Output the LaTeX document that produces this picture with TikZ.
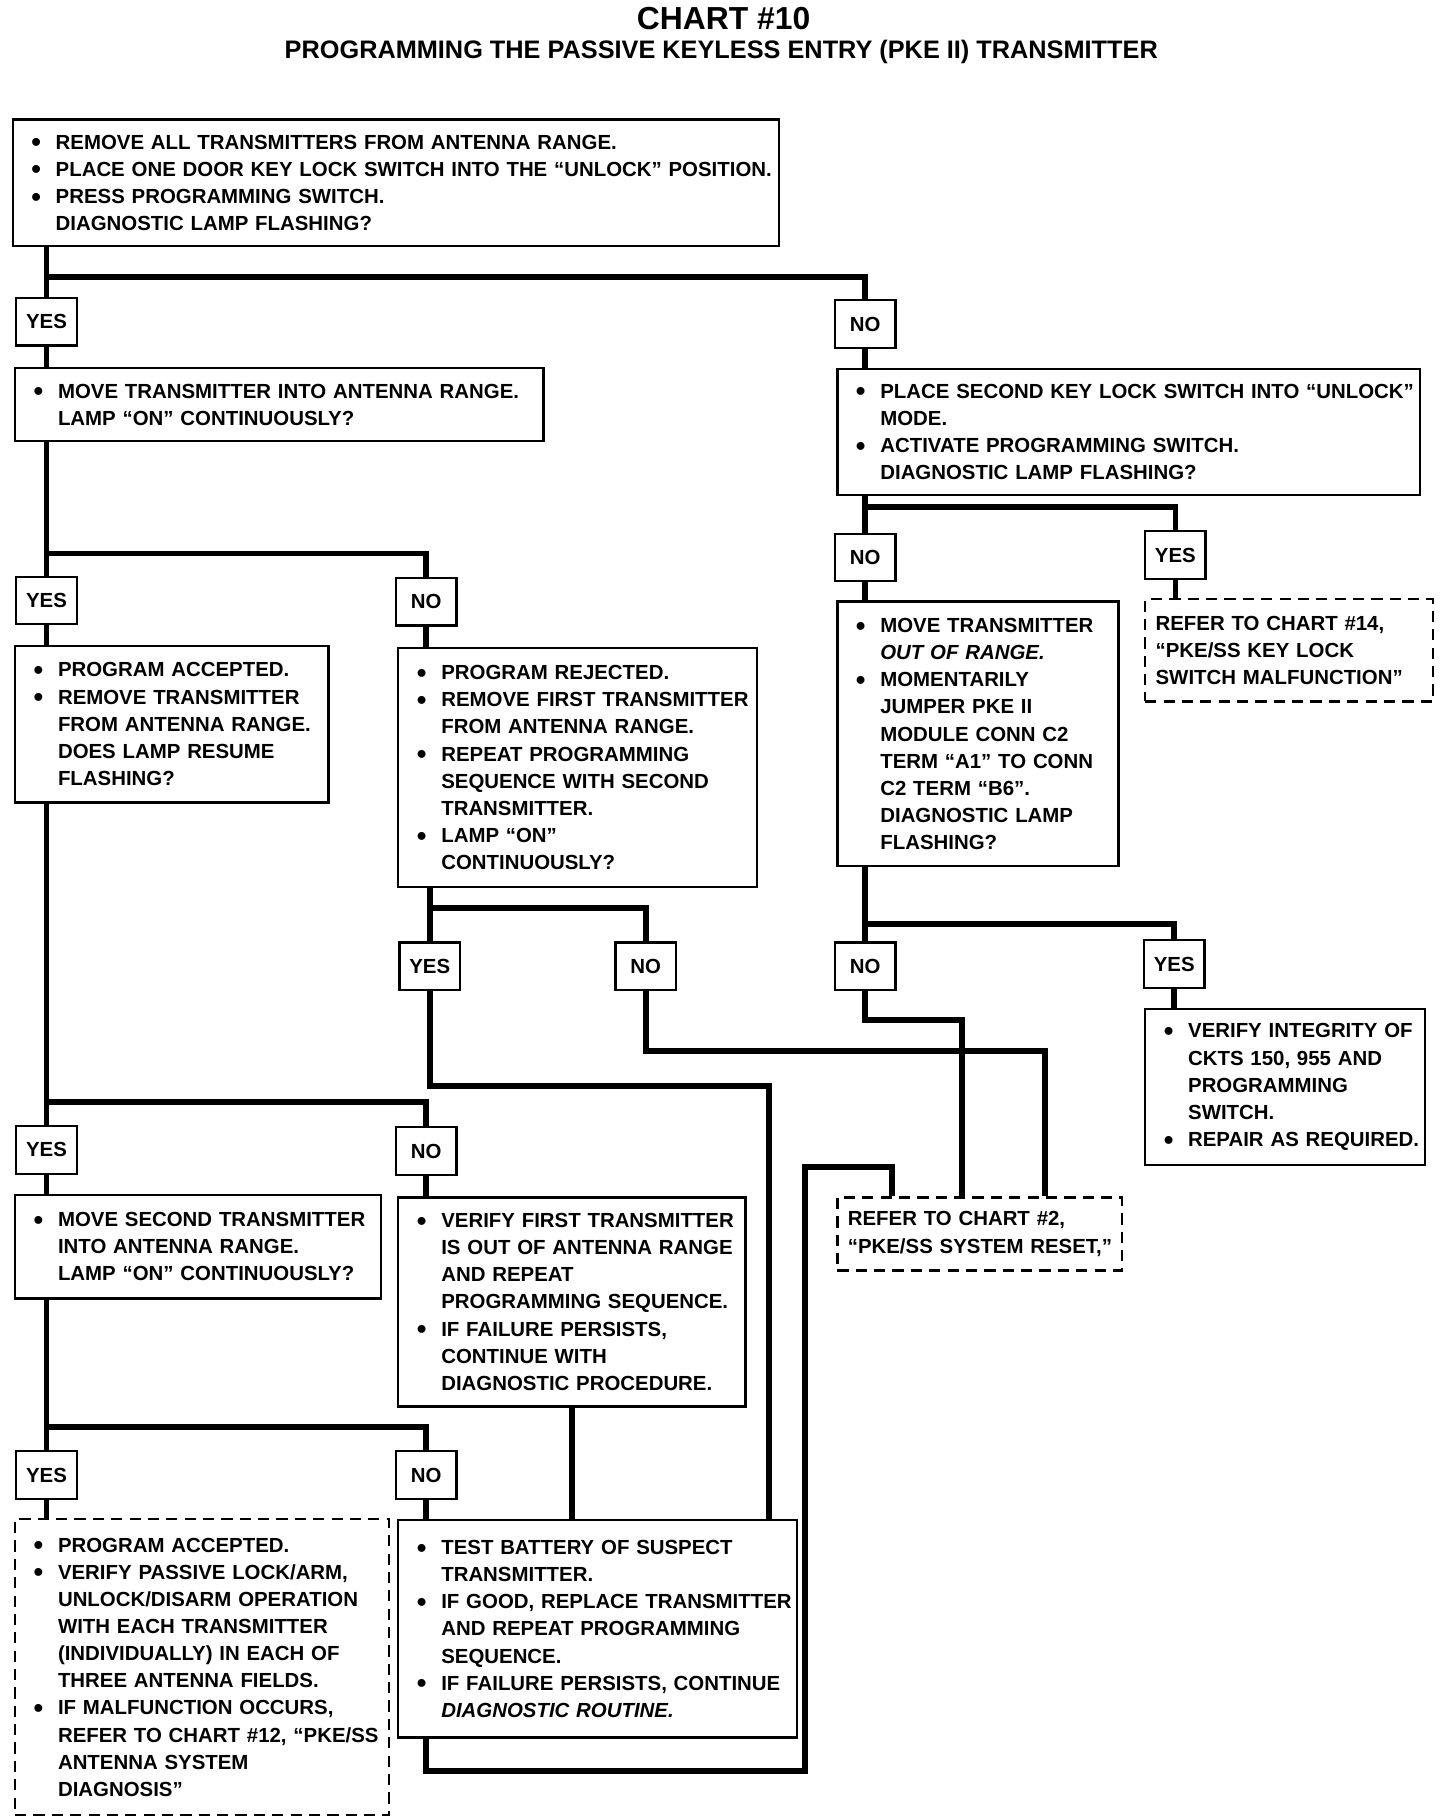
\documentclass[tikz,border=0pt]{standalone}
\usepackage{fontspec}
\setmainfont{Liberation Sans}
\usetikzlibrary{calc}

\newcommand\bigdot{\raisebox{-0.13em}{\scalebox{1.35}{\textbullet}}}
\newcommand\bl[1]{\makebox[0.58cm][l]{\hspace{0.16cm}\bigdot}\mbox{#1}}
\newcommand\ind[1]{\hspace*{0.58cm}\mbox{#1}}
\newcommand\pl[1]{\mbox{#1}}

\tikzset{
    every node/.append style={
        font=\fontsize{10}{13.3}\selectfont\bfseries,
    },
    heading/.style={
        inner sep=0pt,
        font=\bfseries,
    },
    box/.style 2 args={
        draw=black,
        line width=1.1pt,
        fill=white,
        anchor=north west,
        align=left,
        inner xsep=0.16cm,
        inner ysep=0pt,
        text width=#1,
        minimum height=#2,
    },
    refbox/.style 2 args={
        box={#1}{#2},
        inner xsep=0.18cm,
        dash pattern=on 5.5pt off 3.5pt,
    },
    ans/.style={
        draw=black,
        line width=1.1pt,
        fill=white,
        minimum width=1.04cm,
        minimum height=0.82cm,
        inner sep=0pt,
    },
    link/.style={
        draw,
        line width=2.8pt,
    }
}

\begin{document}
\begin{tikzpicture}[x=0.02cm, y=-0.02cm]
    \useasboundingbox (0,0) rectangle (1240,1567);

    \node[heading] (ttl) at (623,16) {\fontsize{15.6}{18}\selectfont CHART \#10};
    \node[heading] (sub) at (621,45) {\fontsize{12.4}{15}\selectfont PROGRAMMING THE PASSIVE KEYLESS ENTRY (PKE II) TRANSMITTER};

    % left column
    \node[box={12.88cm}{2.18cm}] (start) at (10,102) {\bl{REMOVE ALL TRANSMITTERS FROM ANTENNA RANGE.}\\
        \bl{PLACE ONE DOOR KEY LOCK SWITCH INTO THE “UNLOCK” POSITION.}\\
        \bl{PRESS PROGRAMMING SWITCH.}\\
        \ind{DIAGNOSTIC LAMP FLASHING?}};
    \node[box={8.78cm}{1.26cm}] (inrange) at (12,316) {\bl{MOVE TRANSMITTER INTO ANTENNA RANGE.}\\
        \ind{LAMP “ON” CONTINUOUSLY?}};
    \node[box={5.08cm}{2.70cm}] (accepted) at (12,555) {\bl{PROGRAM ACCEPTED.}\\
        \bl{REMOVE TRANSMITTER}\\
        \ind{FROM ANTENNA RANGE.}\\
        \ind{DOES LAMP RESUME}\\
        \ind{FLASHING?}};
    \node[box={5.86cm}{4.12cm}] (rejected) at (342,557) {\bl{PROGRAM REJECTED.}\\
        \bl{REMOVE FIRST TRANSMITTER}\\
        \ind{FROM ANTENNA RANGE.}\\
        \bl{REPEAT PROGRAMMING}\\
        \ind{SEQUENCE WITH SECOND}\\
        \ind{TRANSMITTER.}\\
        \bl{LAMP “ON”}\\
        \ind{CONTINUOUSLY?}};
    \node[box={5.98cm}{1.78cm}] (movesec) at (12,1028) {\bl{MOVE SECOND TRANSMITTER}\\
        \ind{INTO ANTENNA RANGE.}\\
        \ind{LAMP “ON” CONTINUOUSLY?}};
    \node[box={5.66cm}{3.60cm}] (firstout) at (342,1030) {\bl{VERIFY FIRST TRANSMITTER}\\
        \ind{IS OUT OF ANTENNA RANGE}\\
        \ind{AND REPEAT}\\
        \ind{PROGRAMMING SEQUENCE.}\\
        \bl{IF FAILURE PERSISTS,}\\
        \ind{CONTINUE WITH}\\
        \ind{DIAGNOSTIC PROCEDURE.}};
    \node[box={6.12cm}{5.10cm}, dash pattern=on 5.5pt off 3.5pt] (done) at (12,1307) {\bl{PROGRAM ACCEPTED.}\\
        \bl{VERIFY PASSIVE LOCK/ARM,}\\
        \ind{UNLOCK/DISARM OPERATION}\\
        \ind{WITH EACH TRANSMITTER}\\
        \ind{(INDIVIDUALLY) IN EACH OF}\\
        \ind{THREE ANTENNA FIELDS.}\\
        \bl{IF MALFUNCTION OCCURS,}\\
        \ind{REFER TO CHART \#12, “PKE/SS}\\
        \ind{ANTENNA SYSTEM}\\
        \ind{DIAGNOSIS”}};
    \node[box={6.54cm}{3.74cm}] (battery) at (342,1308) {\bl{TEST BATTERY OF SUSPECT}\\
        \ind{TRANSMITTER.}\\
        \bl{IF GOOD, REPLACE TRANSMITTER}\\
        \ind{AND REPEAT PROGRAMMING}\\
        \ind{SEQUENCE.}\\
        \bl{IF FAILURE PERSISTS, CONTINUE}\\
        \ind{\itshape DIAGNOSTIC ROUTINE.}};

    % right column
    \node[box={9.72cm}{2.16cm}] (second) at (720,317) {\bl{PLACE SECOND KEY LOCK SWITCH INTO “UNLOCK”}\\
        \ind{MODE.}\\
        \bl{ACTIVATE PROGRAMMING SWITCH.}\\
        \ind{DIAGNOSTIC LAMP FLASHING?}};
    \node[box={4.52cm}{4.56cm}] (outrange) at (720,517) {\bl{MOVE TRANSMITTER}\\
        \ind{\itshape OUT OF RANGE.}\\
        \bl{MOMENTARILY}\\
        \ind{JUMPER PKE II}\\
        \ind{MODULE CONN C2}\\
        \ind{TERM “A1” TO CONN}\\
        \ind{C2 TERM “B6”.}\\
        \ind{DIAGNOSTIC LAMP}\\
        \ind{FLASHING?}};
    \node[refbox={4.60cm}{1.76cm}] (chart14) at (985,515) {\pl{REFER TO CHART \#14,}\\
        \pl{“PKE/SS KEY LOCK}\\
        \pl{SWITCH MALFUNCTION”}};
    \node[box={4.50cm}{2.68cm}] (verify) at (985,868) {\bl{VERIFY INTEGRITY OF}\\
        \ind{CKTS 150, 955 AND}\\
        \ind{PROGRAMMING}\\
        \ind{SWITCH.}\\
        \bl{REPAIR AS REQUIRED.}};
    \node[refbox={4.54cm}{1.26cm}] (chart2) at (720,1030) {\pl{REFER TO CHART \#2,}\\
        \pl{“PKE/SS SYSTEM RESET,”}};

    % answers
    \node[ans] (yes1) at (40,277) {YES};
    \node[ans] (no1) at (745,279) {NO};
    \node[ans] (yes2) at (40,517) {YES};
    \node[ans] (no2) at (367,518) {NO};
    \node[ans] (no3) at (745,480) {NO};
    \node[ans] (yes3) at (1012,478) {YES};
    \node[ans] (yes4) at (370,832) {YES};
    \node[ans] (no4) at (556,832) {NO};
    \node[ans] (no5) at (745,832) {NO};
    \node[ans] (yes5) at (1011,830) {YES};
    \node[ans] (yes6) at (40,990) {YES};
    \node[ans] (no6) at (367,991) {NO};
    \node[ans] (yes7) at (40,1270) {YES};
    \node[ans] (no7) at (367,1270) {NO};

    \coordinate (c1) at (662,935);
    \coordinate (c2) at (900,905);
    \coordinate (c3) at (828,878);
    \coordinate (c4) at (693,1525);
    \coordinate (c5) at (768,1005);

    % connectors
    \draw[link] (start.south -| yes1) -- (yes1.north);
    \draw[link] (yes1.north) ++(0,-17) -| (no1.north);
    \draw[link] (yes1.south) -- (inrange.north -| yes1);
    \draw[link] (no1.south) -- (second.north -| no1);

    \draw[link] (inrange.south -| yes2) -- (yes2.north);
    \draw[link] (yes2.north) ++(0,-19) -| (no2.north);
    \draw[link] (yes2.south) -- (accepted.north -| yes2);
    \draw[link] (no2.south) -- (rejected.north -| no2);

    \draw[link] (second.south -| no3) -- (no3.north);
    \draw[link] (no3.north) ++(0,-22) -| (yes3.north);
    \draw[link] (no3.south) -- (outrange.north -| no3);
    \draw[link] (yes3.south) -- (chart14.north -| yes3);

    \draw[link] (outrange.south -| no5) -- (no5.north);
    \draw[link] (no5.north) ++(0,-15) -| (yes5.north);
    \draw[link] (yes5.south) -- (verify.north -| yes5);

    \draw[link] (rejected.south -| yes4) -- (yes4.north);
    \draw[link] (yes4.north) ++(0,-29) -| (no4.north);

    \draw[link] (accepted.south -| yes6) -- (yes6.north);
    \draw[link] (yes6.north) ++(0,-20) -| (no6.north);
    \draw[link] (yes6.south) -- (movesec.north -| yes6);
    \draw[link] (no6.south) -- (firstout.north -| no6);

    \draw[link] (movesec.south -| yes7) -- (yes7.north);
    \draw[link] (yes7.north) ++(0,-20) -| (no7.north);
    \draw[link] (yes7.south) -- (done.north -| yes7);
    \draw[link] (no7.south) -- (battery.north -| no7);

    \draw[link] (firstout.south) -- (firstout.south |- battery.north);
    \draw[link] (yes4.south) |- (c1) -- (c1 |- battery.north);
    \draw[link] (no4.south) |- (c2) -- (c2 |- chart2.north);
    \draw[link] (no5.south) |- (c3) -- (c3 |- chart2.north);
    \draw[link] (battery.south -| no7) |- (c4) |- (c5) -- (c5 |- chart2.north);
\end{tikzpicture}
\end{document}
